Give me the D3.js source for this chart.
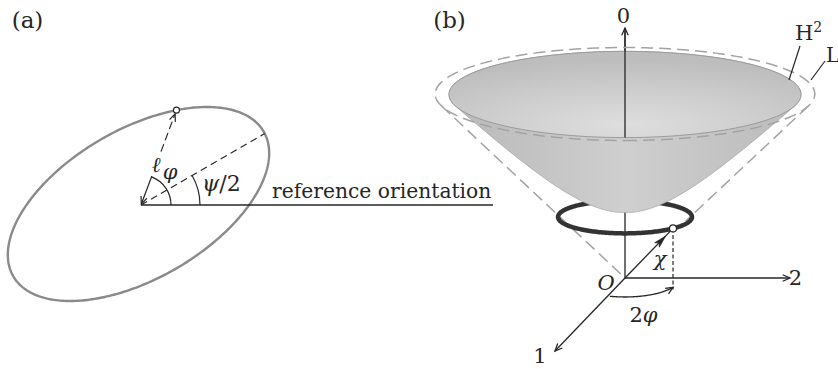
<!DOCTYPE html>
<html>
<head>
<meta charset="utf-8">
<script src="https://cdn.jsdelivr.net/npm/d3@7"></script>
<style>
  html, body { margin: 0; padding: 0; background: #fff; }
  svg { display: block; }
</style>
</head>
<body>
<script>
// ---------- panel (a): orientation ellipse ----------
const ellipseCenter = [138.5, 204];     // px
const ellipseAxes   = [144.6, 74.7];    // semi-major, semi-minor (px)
const halfPsiDeg    = 30;               // ψ/2 : tilt of the major axis
const phiDirDeg     = 69.5;             // direction of the ℓ vector
const originA       = [141, 205];
const refLineEndX   = 493;
const arcRadiusPhi  = 30;
const arcRadiusPsi  = 59;

// ---------- panel (b): hyperboloid H², light cone L ----------
const apexB      = [625, 278];          // origin O on screen
const unitPx     = 69.7;                // px per unit length
const elevSin    = 0.245;               // sine of viewing elevation
const hyperRimR  = 2.525;               // radius of the H² rim
const coneRimR   = 2.723;               // radius of the L rim
const ringRadius = 0.961;               // dark ring
const ringHeight = 0.903;
const ringPointDeg = 45.8;              // azimuth of the marked point on the ring
const axis0TipY  = 28;
const axis2TipX  = 790;
const axis1Tip   = [555, 351];
const twoPhiArc  = { rx: 55, ry: 19, from: 106, to: 29.2 };
const coneRightStopY = 221;

// ---------- text labels ----------
const labelsA = [
  { t: "(a)", x: 27.5, y: 28, size: 23, anchor: "middle" },
  { t: "reference orientation", x: 272, y: 198, size: 20.3, anchor: "start" }
];
const labelsB = [
  { t: "(b)", x: 449.5, y: 28, size: 23, anchor: "middle" },
  { t: "0", x: 623.5, y: 23, size: 21, anchor: "middle" },
  { t: "2", x: 795.5, y: 285, size: 21, anchor: "middle" },
  { t: "1", x: 540, y: 363, size: 21, anchor: "middle" },
  { t: "L", x: 826, y: 62, size: 20, anchor: "start" }
];
const italicLabels = [
  { t: "ℓ", x: 156, y: 172, size: 21 },
  { t: "φ", x: 170, y: 179, size: 21 },
  { t: "O", x: 606, y: 290, size: 21 },
  { t: "χ", x: 660, y: 266, size: 21 }
];

const W = 838, H = 369;
const svg = d3.select("body").append("svg")
  .attr("width", W).attr("height", H)
  .style("font-family", "'DejaVu Serif', 'Liberation Serif', serif");
const defs = svg.append("defs");
const ink = "#262626";
const rad = d => d * Math.PI / 180;
const line = d3.line();

function openHead(g, tip, ang, len = 8, spread = 0.42, w = 1.3) {
  const p1 = [tip[0] - len * Math.cos(ang - spread), tip[1] - len * Math.sin(ang - spread)];
  const p2 = [tip[0] - len * Math.cos(ang + spread), tip[1] - len * Math.sin(ang + spread)];
  g.append("path").attr("d", line([p1, tip, p2]))
    .attr("fill", "none").attr("stroke", ink).attr("stroke-width", w)
    .attr("stroke-linejoin", "miter");
}

// ===================== panel (a) =====================
const gA = svg.append("g");
const psi = rad(halfPsiDeg);
const ellX = d3.scaleLinear().domain([0, 1]).range([ellipseCenter[0], ellipseCenter[0] + 1]);
const ellY = d3.scaleLinear().domain([0, 1]).range([ellipseCenter[1], ellipseCenter[1] - 1]);

function ellipsePoint(t) {
  const u = ellipseAxes[0] * Math.cos(t), v = ellipseAxes[1] * Math.sin(t);
  return [ellX(u * Math.cos(psi) - v * Math.sin(psi)), ellY(u * Math.sin(psi) + v * Math.cos(psi))];
}
function insideValue(p) {
  const dx = p[0] - ellipseCenter[0], dy = ellipseCenter[1] - p[1];
  const u = dx * Math.cos(psi) + dy * Math.sin(psi);
  const v = -dx * Math.sin(psi) + dy * Math.cos(psi);
  return (u / ellipseAxes[0]) ** 2 + (v / ellipseAxes[1]) ** 2;
}
// distance from originA to the ellipse along a screen direction
function rayToEllipse(angDeg) {
  const a = rad(angDeg);
  let lo = 0, hi = 400;
  for (let i = 0; i < 60; i++) {
    const m = (lo + hi) / 2;
    const p = [originA[0] + m * Math.cos(a), originA[1] - m * Math.sin(a)];
    if (insideValue(p) < 1) lo = m; else hi = m;
  }
  return lo;
}
const along = (angDeg, d) => [originA[0] + d * Math.cos(rad(angDeg)), originA[1] - d * Math.sin(rad(angDeg))];

gA.append("path")
  .attr("d", d3.line().curve(d3.curveLinearClosed)(d3.range(0, 2 * Math.PI, 0.02).map(ellipsePoint)))
  .attr("fill", "none").attr("stroke", "#8a8a8a").attr("stroke-width", 2.4);

// reference orientation line
gA.append("path").attr("d", line([originA, [refLineEndX, originA[1]]]))
  .attr("stroke", ink).attr("stroke-width", 1.6);

// major axis (dashed)
const majorLen = rayToEllipse(halfPsiDeg);
gA.append("path").attr("d", line([originA, along(halfPsiDeg, majorLen)]))
  .attr("stroke", ink).attr("stroke-width", 1.2).attr("stroke-dasharray", "7,4.5");

// angle arcs
function arcPath(r, a0, a1) {
  const p = d3.path();
  p.moveTo(originA[0] + r, originA[1]);
  p.arc(originA[0], originA[1], r, rad(-a0), rad(-a1), true);
  return p.toString();
}
gA.append("path").attr("d", arcPath(arcRadiusPsi, 0, halfPsiDeg))
  .attr("fill", "none").attr("stroke", ink).attr("stroke-width", 1.2);
gA.append("path").attr("d", arcPath(arcRadiusPhi, 0, phiDirDeg))
  .attr("fill", "none").attr("stroke", ink).attr("stroke-width", 1.2);

// ℓ vector, split around its label
const ellLen = rayToEllipse(phiDirDeg);
const phiA = rad(phiDirDeg);
gA.append("path").attr("d", line([along(phiDirDeg, 1), along(phiDirDeg, 31)]))
  .attr("stroke", ink).attr("stroke-width", 1.2);
openHead(gA, along(phiDirDeg, 1), Math.PI - phiA, 8, 0.4, 1.2);
gA.append("path").attr("d", line([along(phiDirDeg, 57), along(phiDirDeg, ellLen - 4)]))
  .attr("stroke", ink).attr("stroke-width", 1.2).attr("stroke-dasharray", "8,4");
openHead(gA, along(phiDirDeg, ellLen - 4), -phiA, 8, 0.4, 1.2);
const markA = along(phiDirDeg, ellLen);
gA.append("circle").attr("cx", markA[0]).attr("cy", markA[1]).attr("r", 3)
  .attr("fill", "#fff").attr("stroke", ink).attr("stroke-width", 1.1);

// ψ/2 label
const psiText = gA.append("text").attr("x", 202).attr("y", 191)
  .attr("font-size", 22).attr("fill", ink);
psiText.append("tspan").attr("font-style", "italic").text("ψ");
psiText.append("tspan").text("/2");

// ===================== panel (b) =====================
const gB = svg.append("g");
const cosE = Math.sqrt(1 - elevSin * elevSin);
const sx = d3.scaleLinear().domain([0, 1]).range([apexB[0], apexB[0] + unitPx]);
const sy = d3.scaleLinear().domain([0, 1]).range([apexB[1], apexB[1] - unitPx]);
// (x1 toward viewer, x2 to the right, x0 up) → screen
const proj = ([x1, x2, x0]) => [sx(x2), sy(x0 * cosE - x1 * elevSin)];
const circle3 = (r, h, n = 240) => d3.range(n).map(i => {
  const th = 2 * Math.PI * i / n;
  return proj([r * Math.cos(th), r * Math.sin(th), h]);
});
const closed = d3.line().curve(d3.curveLinearClosed);

// gradients
const bodyGrad = defs.append("linearGradient").attr("id", "bodyGrad")
  .attr("x1", "0").attr("x2", "1").attr("y1", "0").attr("y2", "0");
[[0, "#b8b8b8"], [0.5, "#cfcfcf"], [1, "#bababa"]].forEach(([o, c]) =>
  bodyGrad.append("stop").attr("offset", o).attr("stop-color", c));
const rimGrad = defs.append("radialGradient").attr("id", "rimGrad")
  .attr("cx", "0.5").attr("cy", "0.85").attr("r", "0.75");
[[0, "#dedede"], [0.6, "#cbcbcb"], [1, "#bdbdbd"]].forEach(([o, c]) =>
  rimGrad.append("stop").attr("offset", o).attr("stop-color", c));

// light-cone silhouette lines
const coneC = proj([0, 0, coneRimR]);
const coneRx = unitPx * coneRimR, coneRy = unitPx * coneRimR * elevSin;
const hRatio = (apexB[1] - coneC[1]) / coneRy;
const tv = 1 / hRatio, tu = Math.sqrt(1 - tv * tv);
const tanL = [coneC[0] - tu * coneRx, coneC[1] + tv * coneRy];
const tanR = [coneC[0] + tu * coneRx, coneC[1] + tv * coneRy];
const dashL = { stroke: "#a3a3a3", w: 1.5, dash: "12,6" };
gB.append("path").attr("d", line([tanL, apexB]))
  .attr("stroke", dashL.stroke).attr("stroke-width", dashL.w).attr("stroke-dasharray", dashL.dash);
const fR = (coneRightStopY - tanR[1]) / (apexB[1] - tanR[1]);
gB.append("path").attr("d", line([tanR, [tanR[0] + fR * (apexB[0] - tanR[0]), coneRightStopY]]))
  .attr("stroke", dashL.stroke).attr("stroke-width", dashL.w).attr("stroke-dasharray", dashL.dash);

// axis 0 (full length, bowl covers the middle)
gB.append("path").attr("d", line([apexB, [apexB[0], axis0TipY]]))
  .attr("stroke", ink).attr("stroke-width", 1.3);

// dark ring
gB.append("path").attr("d", closed(circle3(ringRadius, ringHeight)))
  .attr("fill", "none").attr("stroke", "#333").attr("stroke-width", 4.5);

// hyperboloid body: convex hull of the sampled surface
const surf = [];
for (let i = 0; i <= 50; i++) {
  const r = hyperRimR * i / 50;
  for (let j = 0; j < 180; j++) {
    const th = 2 * Math.PI * j / 180;
    surf.push(proj([r * Math.cos(th), r * Math.sin(th), Math.sqrt(1 + r * r)]));
  }
}
gB.append("path").attr("d", closed(d3.polygonHull(surf)))
  .attr("fill", "url(#bodyGrad)").attr("stroke", "#a8a8a8").attr("stroke-width", 0.8);

// rim opening of H²
const rimH = Math.sqrt(1 + hyperRimR * hyperRimR);
const rimPts = circle3(hyperRimR, rimH);
gB.append("path").attr("d", closed(rimPts))
  .attr("fill", "url(#rimGrad)").attr("stroke", "#9a9a9a").attr("stroke-width", 1);
const rimFront = proj([hyperRimR, 0, rimH]);
gB.append("path").attr("d", line([rimFront, [apexB[0], axis0TipY]]))
  .attr("stroke", ink).attr("stroke-width", 1.3);
openHead(gB, [apexB[0], axis0TipY], -Math.PI / 2);

// rim of the light cone (dashed)
gB.append("path").attr("d", closed(circle3(coneRimR, coneRimR)))
  .attr("fill", "none").attr("stroke", dashL.stroke).attr("stroke-width", dashL.w)
  .attr("stroke-dasharray", dashL.dash);

// axis 2
gB.append("path").attr("d", line([apexB, [axis2TipX, apexB[1]]]))
  .attr("stroke", ink).attr("stroke-width", 1.3);
openHead(gB, [axis2TipX, apexB[1]], 0);
// axis 1
gB.append("path").attr("d", line([apexB, axis1Tip]))
  .attr("stroke", ink).attr("stroke-width", 1.3);
openHead(gB, axis1Tip, Math.atan2(axis1Tip[1] - apexB[1], axis1Tip[0] - apexB[0]));

// χ vector to the marked point on the ring
const th = rad(ringPointDeg);
const ring3 = [ringRadius * Math.cos(th), ringRadius * Math.sin(th), ringHeight];
const ringPt = proj(ring3);
const footPt = proj([ring3[0], ring3[1], 0]);
gB.append("path").attr("d", line([apexB, ringPt]))
  .attr("stroke", ink).attr("stroke-width", 1.3);
{
  const a = Math.atan2(ringPt[1] - apexB[1], ringPt[0] - apexB[0]);
  const tip = [ringPt[0] - 11 * Math.cos(a), ringPt[1] - 11 * Math.sin(a)];
  const back = 12, hw = 3.2;
  const b = [tip[0] - back * Math.cos(a), tip[1] - back * Math.sin(a)];
  const n = [-Math.sin(a), Math.cos(a)];
  gB.append("path")
    .attr("d", closed([tip, [b[0] + hw * n[0], b[1] + hw * n[1]], [b[0] + 3 * Math.cos(a), b[1] + 3 * Math.sin(a)], [b[0] - hw * n[0], b[1] - hw * n[1]]]))
    .attr("fill", ink).attr("stroke", ink).attr("stroke-width", 0.8);
}
// drop line to the 1–2 plane
gB.append("path").attr("d", line([ringPt, footPt]))
  .attr("stroke", ink).attr("stroke-width", 1.2).attr("stroke-dasharray", "4,2.5");

// 2φ arc
{
  const pts = d3.range(twoPhiArc.from, twoPhiArc.to - 0.01, -1).concat([twoPhiArc.to]).map(d =>
    [apexB[0] + twoPhiArc.rx * Math.cos(rad(d)), apexB[1] + twoPhiArc.ry * Math.sin(rad(d))]);
  gB.append("path").attr("d", d3.line().curve(d3.curveBasis)(pts))
    .attr("fill", "none").attr("stroke", ink).attr("stroke-width", 1.3);
  const t = rad(twoPhiArc.to);
  openHead(gB, pts[pts.length - 1], Math.atan2(-twoPhiArc.ry * Math.cos(t), twoPhiArc.rx * Math.sin(t)));
}

gB.append("circle").attr("cx", ringPt[0]).attr("cy", ringPt[1]).attr("r", 3.5)
  .attr("fill", "#fff").attr("stroke", ink).attr("stroke-width", 1.2);

// leader lines for H² and L
gB.append("path").attr("d", line([[800, 46], [789, 80]])).attr("stroke", ink).attr("stroke-width", 1.2);
gB.append("path").attr("d", line([[825, 61], [811, 80]])).attr("stroke", ink).attr("stroke-width", 1.2);

// ---------- text ----------
svg.selectAll("text.plain").data(labelsA.concat(labelsB)).join("text")
  .attr("class", "plain")
  .attr("x", d => d.x).attr("y", d => d.y)
  .attr("font-size", d => d.size).attr("text-anchor", d => d.anchor)
  .attr("fill", ink).text(d => d.t);
svg.selectAll("text.ital").data(italicLabels).join("text")
  .attr("class", "ital")
  .attr("x", d => d.x).attr("y", d => d.y)
  .attr("font-size", d => d.size).attr("font-style", "italic")
  .attr("text-anchor", "middle").attr("fill", ink).text(d => d.t);

const hText = svg.append("text").attr("x", 795).attr("y", 40).attr("font-size", 21).attr("fill", ink);
hText.append("tspan").text("H");
hText.append("tspan").attr("font-size", 14).attr("dy", -8).text("2");

const tpText = svg.append("text").attr("x", 643.5).attr("y", 322).attr("font-size", 21)
  .attr("text-anchor", "middle").attr("fill", ink);
tpText.append("tspan").text("2");
tpText.append("tspan").attr("font-style", "italic").text("φ");
</script>
</body>
</html>
